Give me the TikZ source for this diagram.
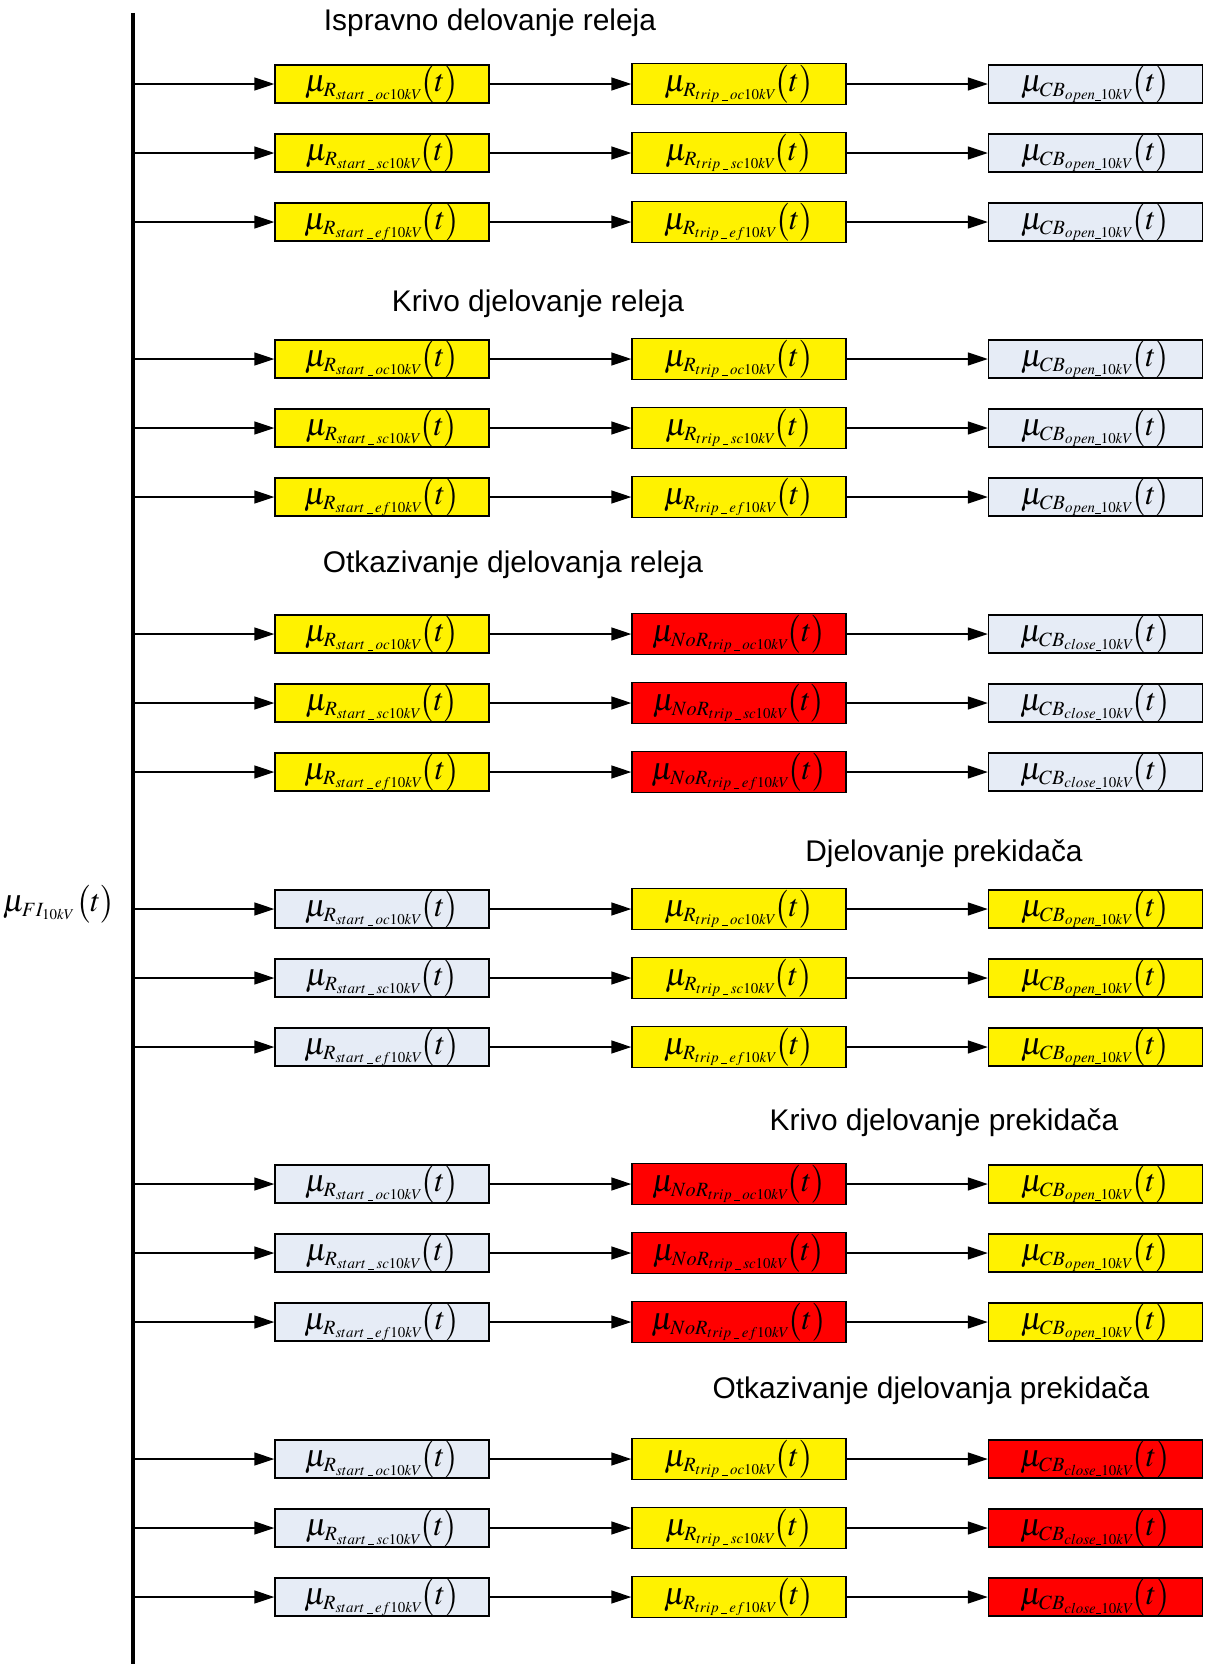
\documentclass[tikz,border=0pt]{standalone}
\usepackage{mathptmx}
\usepackage[no-math]{fontspec}
\newfontfamily\titlefont{Liberation Sans}
\usetikzlibrary{arrows.meta,positioning}

\definecolor{paleblue}{RGB}{230,236,246}
\DeclareMathSizes{18}{18}{11.5}{8.5}

\newcommand{\usc}{\rule[-0.6pt]{3.2pt}{0.35pt}}
\newcommand{\mustart}[1]{$\mu_{R_{start\mkern3mu\usc\mkern3mu #1 10kV}}\mkern-2mu\bigl(t\bigr)$}
\newcommand{\mutrip}[1]{$\mu_{R_{trip\mkern3mu\usc\mkern3mu #1 10kV}}\mkern-2mu\bigl(t\bigr)$}
\newcommand{\munor}[1]{$\mu_{NoR_{trip\mkern3mu\usc\mkern3mu #1 10kV}}\mkern-2mu\bigl(t\bigr)$}
\newcommand{\mucb}[1]{$\mu_{CB_{#1\usc 10kV}}\mkern-2mu\bigl(t\bigr)$}

\begin{document}
\begin{tikzpicture}[
    box/.style={rectangle, draw=black, line width=0.8pt, minimum width=4.28cm, minimum height=0.68cm, inner sep=0pt, font=\fontsize{18}{20}\selectfont},
    ybox/.style={box, fill=yellow},
    rbox/.style={box, fill=red},
    bbox/.style={box, fill=paleblue},
    tall/.style={minimum height=0.82cm},
    title/.style={font=\titlefont\fontsize{17}{20}\selectfont},
    arrow/.style={-{Triangle[length=0.4cm,width=0.26cm]}, line width=0.8pt},
    busline/.style={line width=2.6pt}]

    \useasboundingbox (0,0) rectangle (24.1,-33.28);

    % Bus and input
    \coordinate (bustop) at (2.66,-0.26);
    \coordinate (busbot) at (2.66,-33.28);
    \draw[busline] (bustop) -- (busbot);
    \node[font=\fontsize{18}{20}\selectfont] (fi) at (1.18,-18.08) {$\mu_{FI_{10kV}}\bigl(t\bigr)$};

    % Ispravno delovanje releja
    \node[title] (t1) at (9.80,-0.46) {Ispravno delovanje releja};
    \foreach \k/\f in {1/oc,2/sc,3/ef} {
        \pgfmathsetmacro\y{-1.68-1.38*(\k-1)}
        \node[ybox] (start1\k) at (7.64,\y) {\mustart{\f}};
        \node[ybox, tall] (trip1\k) at (14.78,\y) {\mutrip{\f}};
        \node[bbox] (cb1\k) at (21.91,\y) {\mucb{open}};
        \draw[arrow] (bustop |- start1\k.west) -- (start1\k.west);
        \draw[arrow] (start1\k) -- (trip1\k);
        \draw[arrow] (trip1\k) -- (cb1\k);
    }

    % Krivo djelovanje releja
    \node[title] (t2) at (10.76,-6.08) {Krivo djelovanje releja};
    \foreach \k/\f in {1/oc,2/sc,3/ef} {
        \pgfmathsetmacro\y{-7.18-1.38*(\k-1)}
        \node[ybox] (start2\k) at (7.64,\y) {\mustart{\f}};
        \node[ybox, tall] (trip2\k) at (14.78,\y) {\mutrip{\f}};
        \node[bbox] (cb2\k) at (21.91,\y) {\mucb{open}};
        \draw[arrow] (bustop |- start2\k.west) -- (start2\k.west);
        \draw[arrow] (start2\k) -- (trip2\k);
        \draw[arrow] (trip2\k) -- (cb2\k);
    }

    % Otkazivanje djelovanja releja
    \node[title] (t3) at (10.26,-11.30) {Otkazivanje djelovanja releja};
    \foreach \k/\f in {1/oc,2/sc,3/ef} {
        \pgfmathsetmacro\y{-12.68-1.38*(\k-1)}
        \node[ybox] (start3\k) at (7.64,\y) {\mustart{\f}};
        \node[rbox, tall] (trip3\k) at (14.78,\y) {\munor{\f}};
        \node[bbox] (cb3\k) at (21.91,\y) {\mucb{close}};
        \draw[arrow] (bustop |- start3\k.west) -- (start3\k.west);
        \draw[arrow] (start3\k) -- (trip3\k);
        \draw[arrow] (trip3\k) -- (cb3\k);
    }

    % Djelovanje prekidaca
    \node[title] (t4) at (18.88,-17.08) {Djelovanje prekidača};
    \foreach \k/\f in {1/oc,2/sc,3/ef} {
        \pgfmathsetmacro\y{-18.18-1.38*(\k-1)}
        \node[bbox] (start4\k) at (7.64,\y) {\mustart{\f}};
        \node[ybox, tall] (trip4\k) at (14.78,\y) {\mutrip{\f}};
        \node[ybox] (cb4\k) at (21.91,\y) {\mucb{open}};
        \draw[arrow] (bustop |- start4\k.west) -- (start4\k.west);
        \draw[arrow] (start4\k) -- (trip4\k);
        \draw[arrow] (trip4\k) -- (cb4\k);
    }

    % Krivo djelovanje prekidaca
    \node[title] (t5) at (18.88,-22.46) {Krivo djelovanje prekidača};
    \foreach \k/\f in {1/oc,2/sc,3/ef} {
        \pgfmathsetmacro\y{-23.68-1.38*(\k-1)}
        \node[bbox] (start5\k) at (7.64,\y) {\mustart{\f}};
        \node[rbox, tall] (trip5\k) at (14.78,\y) {\munor{\f}};
        \node[ybox] (cb5\k) at (21.91,\y) {\mucb{open}};
        \draw[arrow] (bustop |- start5\k.west) -- (start5\k.west);
        \draw[arrow] (start5\k) -- (trip5\k);
        \draw[arrow] (trip5\k) -- (cb5\k);
    }

    % Otkazivanje djelovanja prekidaca
    \node[title] (t6) at (18.62,-27.82) {Otkazivanje djelovanja prekidača};
    \foreach \k/\f in {1/oc,2/sc,3/ef} {
        \pgfmathsetmacro\y{-29.18-1.38*(\k-1)}
        \node[bbox] (start6\k) at (7.64,\y) {\mustart{\f}};
        \node[ybox, tall] (trip6\k) at (14.78,\y) {\mutrip{\f}};
        \node[rbox] (cb6\k) at (21.91,\y) {\mucb{close}};
        \draw[arrow] (bustop |- start6\k.west) -- (start6\k.west);
        \draw[arrow] (start6\k) -- (trip6\k);
        \draw[arrow] (trip6\k) -- (cb6\k);
    }

\end{tikzpicture}
\end{document}
